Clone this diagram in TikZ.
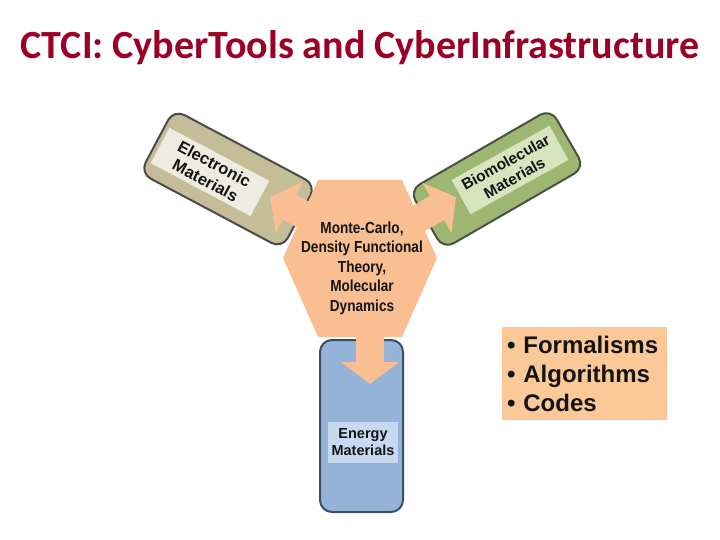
\documentclass[tikz,border=0pt]{standalone}
\usepackage{fontspec}
\setmainfont{Liberation Sans}
\newfontfamily\titlefont{Carlito}
\newfontfamily\narrowfont[FakeStretch=0.85]{Liberation Sans}
\definecolor{titlered}{RGB}{155,0,38}
\definecolor{peach}{RGB}{249,191,147}
\definecolor{peachbox}{RGB}{251,200,152}
\definecolor{tanfill}{RGB}{196,189,151}
\definecolor{taninner}{RGB}{238,236,225}
\definecolor{tanborder}{RGB}{75,75,75}
\definecolor{greenfill}{RGB}{157,183,115}
\definecolor{greeninner}{RGB}{215,228,189}
\definecolor{greenborder}{RGB}{72,82,62}
\definecolor{bluefill}{RGB}{149,179,215}
\definecolor{blueinner}{RGB}{198,217,241}
\definecolor{blueborder}{RGB}{58,78,104}
\definecolor{ink}{RGB}{20,20,20}
\begin{document}
\begin{tikzpicture}[x=1pt,y=-1pt,
  outerbox/.style={draw, line width=2pt, rounded corners=12pt, inner sep=0pt},
  labelbox/.style={inner sep=0pt, align=center, text=ink},
  blockarrow/.style={fill=peach}]
\useasboundingbox (0,0) rectangle (720,540);
% title
\node[anchor=base, font=\titlefont\bfseries\fontsize{40}{46}\selectfont, text=titlered, inner sep=0pt] (title) at (360,59) {CTCI: CyberTools and CyberInfrastructure};
% outer boxes
\node[outerbox, fill=tanfill, draw=tanborder, minimum width=161pt, minimum height=72pt, rotate=-28] (elec) at (228,179) {};
\node[outerbox, fill=greenfill, draw=greenborder, minimum width=163pt, minimum height=68pt, rotate=30] (bio) at (497,179) {};
\node[outerbox, fill=bluefill, draw=blueborder, minimum width=83pt, minimum height=172pt] (energy) at (361.5,426) {};
% label boxes
\node[labelbox, fill=taninner, minimum width=113pt, minimum height=40pt, rotate=-28, font=\bfseries\fontsize{16.5}{19}\selectfont] (elecl) at (210,172) {Electronic\\Materials};
\node[labelbox, fill=greeninner, minimum width=112pt, minimum height=39pt, rotate=29, font=\bfseries\fontsize{15.5}{18}\selectfont] (biol) at (510,170) {Biomolecular\\Materials};
\node[labelbox, fill=blueinner, minimum width=70pt, minimum height=41pt, font=\bfseries\fontsize{14.5}{17}\selectfont] (energyl) at (363,442.5) {Energy\\Materials};
% hexagon
\fill[peach] (318,180) -- (402,180) -- (437,258) -- (402,337) -- (318,337) -- (283,258) -- cycle;
% block arrows
\fill[blockarrow] (270,197) -- (303,181.7) -- (296,194.9) -- (347.2,222.1) -- (334,246.9) -- (282.8,219.7) -- (275.8,232.9) -- cycle;
\fill[blockarrow] (456,197) -- (451.5,233.1) -- (444,220.1) -- (393.7,249.1) -- (379.7,224.9) -- (430,195.9) -- (422.5,182.9) -- cycle;
\fill[blockarrow] (356,320) -- (384,320) -- (384,362) -- (399,362) -- (370,384) -- (341,362) -- (356,362) -- cycle;
% hexagon text
\node[labelbox, font=\narrowfont\bfseries\fontsize{16}{19.5}\selectfont] (hex) at (362,268) {Monte-Carlo,\\Density Functional\\Theory,\\Molecular\\Dynamics};
% list box
\node[fill=peachbox, minimum width=165pt, minimum height=93pt, text width=155pt, inner xsep=5pt, inner ysep=0pt, align=left, text=ink, font=\bfseries\fontsize{24}{29}\selectfont] (list) at (584.5,373.5) {• Formalisms\\• Algorithms\\• Codes};
\end{tikzpicture}
\end{document}
